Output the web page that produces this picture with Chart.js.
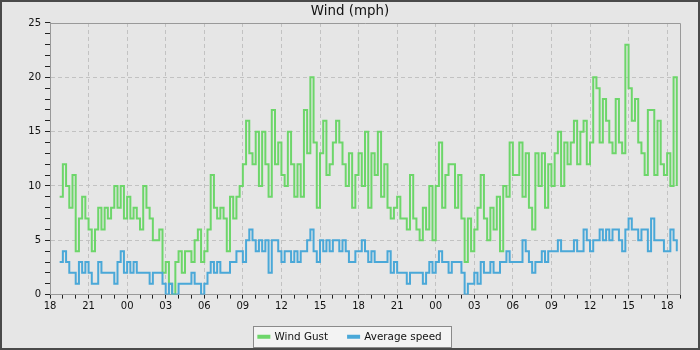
<!DOCTYPE html>
<html lang="en">
<head>
    <meta charset="UTF-8">
    <title>Wind (mph)</title>
    <script src="https://cdn.jsdelivr.net/npm/chart.js"></script>
    <style>
        html, body { margin: 0; padding: 0; background: #e6e6e6; }
        #wrap { position: relative; width: 700px; height: 350px; }
    </style>
</head>
<body>
    <div id="wrap"><canvas id="windChart"></canvas></div>

    <script>
        // readings every 15 minutes, first one at 18:45 (hours counted from 18:00)
        const startHour = 0.75;
        const stepHours = 0.25;
        const hourLabels = ['18', '21', '00', '03', '06', '09', '12', '15', '18',
                            '21', '00', '03', '06', '09', '12', '15', '18'];

        const gustValues = [
            9, 12, 10, 8, 11, 4, 7, 9, 7, 6, 4, 6, 8, 6, 8, 7, 8, 10, 8, 10, 7, 9, 7, 8,
            7, 6, 10, 8, 7, 5, 5, 6, 2, 3, 1, 0, 3, 4, 2, 4, 4, 3, 5, 6, 3, 4, 6, 11,
            8, 7, 8, 7, 4, 9, 7, 9, 10, 12, 16, 13, 12, 15, 10, 15, 12, 9, 17, 12, 14, 11, 10, 15,
            12, 9, 12, 9, 17, 13, 20, 14, 8, 13, 16, 11, 12, 14, 16, 14, 12, 10, 13, 8, 11, 13, 10, 15,
            8, 13, 11, 15, 9, 12, 8, 7, 8, 9, 7, 7, 6, 11, 7, 6, 5, 8, 6, 10, 5, 10, 14, 8,
            11, 12, 12, 8, 11, 7, 3, 7, 4, 6, 8, 11, 7, 5, 8, 6, 9, 4, 10, 9, 14, 11, 11, 14, 9, 13,
            8, 6, 13, 10, 13, 8, 12, 10, 13, 15, 10, 14, 12, 14, 16, 12, 15, 16, 12, 14, 20, 19, 14, 18,
            16, 14, 13, 18, 14, 13, 23, 19, 16, 18, 14, 13, 11, 17, 17, 11, 16, 12, 11, 13, 10, 20, 10
        ];

        const avgValues = [
            3, 4, 3, 2, 2, 1, 3, 2, 3, 2, 1, 1, 3, 2, 2, 2, 2, 1, 3, 4, 2, 3, 2, 3,
            2, 2, 2, 2, 1, 2, 2, 2, 1, 0, 1, 0, 0, 1, 1, 1, 1, 2, 1, 1, 0, 1, 2, 3,
            2, 3, 2, 2, 2, 3, 3, 4, 4, 3, 5, 6, 5, 4, 5, 4, 5, 2, 5, 5, 4, 3, 4, 4,
            3, 4, 3, 4, 4, 5, 6, 4, 3, 5, 4, 5, 4, 5, 5, 4, 5, 4, 3, 3, 4, 4, 5, 4,
            3, 4, 3, 3, 3, 3, 4, 2, 3, 2, 2, 2, 1, 2, 2, 2, 2, 1, 2, 3, 2, 3, 4, 3,
            3, 2, 3, 3, 3, 2, 0, 1, 1, 2, 1, 3, 2, 2, 3, 2, 2, 3, 3, 4, 3, 3, 3, 3, 5, 4,
            3, 2, 3, 3, 4, 3, 4, 4, 4, 5, 4, 4, 4, 4, 5, 4, 4, 6, 5, 4, 5, 5, 6, 5,
            6, 5, 6, 6, 5, 4, 6, 7, 6, 6, 5, 6, 6, 4, 7, 5, 5, 5, 4, 4, 6, 5, 4
        ];

        const toPoints = vals => vals.map((v, i) => ({ x: startHour + i * stepHours, y: v }));

        Chart.defaults.font.family = "'DejaVu Sans', sans-serif";
        Chart.defaults.font.size = 10;
        Chart.defaults.color = '#111';

        // background, plot frame, legend box and outer border
        const decor = {
            id: 'decor',
            beforeDraw(chart) {
                const ctx = chart.ctx;
                ctx.save();
                ctx.fillStyle = '#e6e6e6';
                ctx.fillRect(0, 0, chart.width, chart.height);
                const boxes = chart.legend.legendHitBoxes;
                if (boxes && boxes.length) {
                    const l = Math.round(Math.min(...boxes.map(b => b.left)) - 5);
                    const r = Math.round(Math.max(...boxes.map(b => b.left + b.width)) + 9);
                    const t = Math.round(boxes[0].top + boxes[0].height / 2 - 10.5);
                    ctx.fillStyle = '#f3f3f3';
                    ctx.fillRect(l, t, r - l, 21);
                    ctx.strokeStyle = '#8a8a8a';
                    ctx.lineWidth = 1;
                    ctx.strokeRect(l + 0.5, t + 0.5, r - l, 21);
                }
                ctx.restore();
            },
            beforeDatasetsDraw(chart) {
                const a = chart.chartArea;
                const ctx = chart.ctx;
                ctx.save();
                ctx.strokeStyle = '#999';
                ctx.lineWidth = 1;
                ctx.beginPath();
                ctx.moveTo(Math.round(a.left), Math.round(a.top) + 0.5);
                ctx.lineTo(Math.round(a.right) + 0.5, Math.round(a.top) + 0.5);
                ctx.lineTo(Math.round(a.right) + 0.5, Math.round(a.bottom));
                ctx.stroke();
                ctx.restore();
            },
            afterDraw(chart) {
                const ctx = chart.ctx;
                ctx.save();
                ctx.strokeStyle = '#4a4a4a';
                ctx.lineWidth = 2;
                ctx.strokeRect(1, 1, chart.width - 2, chart.height - 2);
                ctx.restore();
            }
        };

        new Chart(document.getElementById('windChart'), {
            type: 'line',
            data: {
                datasets: [{
                    label: 'Wind Gust',
                    data: toPoints(gustValues),
                    borderColor: '#6dd66a',
                    backgroundColor: '#6dd66a',
                    borderWidth: 2,
                    pointRadius: 0,
                    stepped: true,
                    order: 2
                }, {
                    label: 'Average speed',
                    data: toPoints(avgValues),
                    borderColor: '#4aa8d8',
                    backgroundColor: '#4aa8d8',
                    borderWidth: 2,
                    pointRadius: 0,
                    stepped: true,
                    order: 1
                }]
            },
            options: {
                responsive: true,
                maintainAspectRatio: false,
                animation: false,
                layout: { padding: { left: 0, right: 0, top: 0, bottom: -2 } },
                plugins: {
                    title: {
                        display: true,
                        text: 'Wind (mph)',
                        color: '#111',
                        font: { size: 13.4, weight: 'normal' },
                        padding: { top: 3, bottom: 3.9 }
                    },
                    legend: {
                        position: 'bottom',
                        labels: {
                            boxWidth: 11,
                            boxHeight: 2,
                            padding: 20,
                            color: '#111',
                            font: { size: 10.4 },
                            sort: (a, b) => a.datasetIndex - b.datasetIndex
                        }
                    },
                    tooltip: { enabled: false }
                },
                scales: {
                    x: {
                        type: 'linear',
                        min: 0,
                        max: 49,
                        afterFit: scale => { scale.height = 17; },
                        ticks: {
                            stepSize: 1,
                            autoSkip: false,
                            maxRotation: 0,
                            padding: 2,
                            callback: v => (v % 3 === 0 ? hourLabels[v / 3] : '')
                        },
                        grid: {
                            color: c => (c.tick && c.tick.value % 3 === 0 && c.tick.value > 0 ? '#c2c2c2' : 'transparent'),
                            tickColor: '#222',
                            tickLength: 4
                        },
                        border: { color: '#999', dash: [4, 3] }
                    },
                    y: {
                        min: 0,
                        max: 25,
                        afterFit: scale => { scale.width = 50; },
                        ticks: {
                            stepSize: 1,
                            autoSkip: false,
                            padding: 4,
                            callback: v => (v % 5 === 0 ? v : '')
                        },
                        grid: {
                            color: c => (c.tick && c.tick.value % 5 === 0 && c.tick.value > 0 && c.tick.value < 25 ? '#c2c2c2' : 'transparent'),
                            tickColor: '#222',
                            tickLength: 5
                        },
                        border: { color: '#999', dash: [4, 3] }
                    },
                    // empty strip on the right so the plot stops at the same place
                    spacer: {
                        position: 'right',
                        afterFit: scale => { scale.width = 20; },
                        ticks: { display: false },
                        grid: { display: false, drawTicks: false },
                        border: { display: false }
                    }
                }
            },
            plugins: [decor]
        });
    </script>
</body>
</html>
